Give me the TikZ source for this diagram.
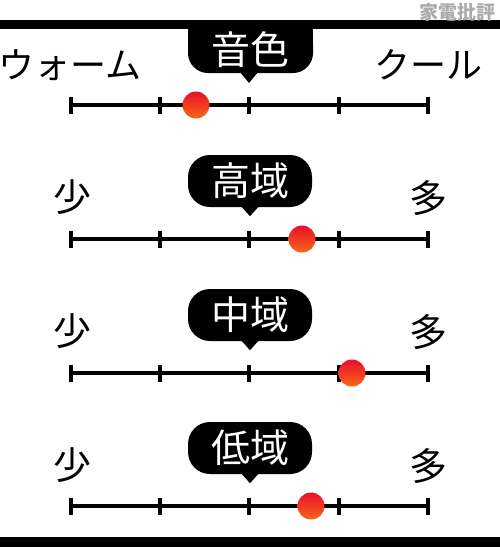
\documentclass[tikz,border=0pt]{standalone}
\usepackage{fontspec}
\newfontfamily\jp{Noto Sans CJK JP}
\definecolor{dotred}{HTML}{E8102A}
\definecolor{dotorange}{HTML}{F7661A}
\definecolor{wmgray}{HTML}{ABABAB}
\tikzset{
  bubble/.style={fill=black, text=white, rounded corners=22pt, minimum width=124pt, minimum height=52pt, inner sep=0pt, font=\jp\fontsize{39}{39}\selectfont},
  bubbletext/.style={text=white, inner sep=0pt, font=\jp\fontsize{39}{39}\selectfont},
  endlabel/.style={inner sep=0pt, font=\jp\fontsize{38}{38}\selectfont},
  scaleline/.style={line width=3.5pt},
  dot/.style={circle, minimum size=27pt, inner sep=0pt, top color=dotred, bottom color=dotorange, shading angle=0},
}
\begin{document}
\begin{tikzpicture}[x=1pt,y=-1pt]
\useasboundingbox (0,0) rectangle (500,547);
\fill[white] (0,0) rectangle (500,547);
% bars
\fill (0,20) rectangle (500,29);
\fill (0,537) rectangle (500,547);
\node[text=wmgray, inner sep=0pt, font=\jp\bfseries\fontsize{19}{19}\selectfont, anchor=east] (wm) at (496,12) {家電批評};

\foreach \y/\d/\n in {105/196/a, 239/302/b, 373/352/c, 506/311/d}{
  \coordinate (s\n) at (71,\y);
  \coordinate (e\n) at (428,\y);
  \draw[scaleline] (s\n) -- (e\n);
  \foreach \x in {71,160,249,339,428}{
    \draw[scaleline] (\x,\y-8.5) -- (\x,\y+8.5);
  }
  \node[dot] (dot\n) at (\d,\y) {};
}

% section 1
\fill[rounded corners=20pt] (188,25) rectangle (313,73);
\fill (188,25) rectangle (313,50);
\fill (240,72) -- (258,72) -- (249,83) -- cycle;
\node[bubbletext] (t1) at (250,50) {音色};
\node[endlabel, font=\jp\fontsize{36}{36}\selectfont] (l1) at (70,65) {ウォーム};
\node[endlabel, font=\jp\fontsize{36}{36}\selectfont] (r1) at (428,65) {クール};

% section 2
\node[bubble] (b2) at (250,181) {高域};
\fill ([xshift=-9pt,yshift=1pt]b2.south) -- ([xshift=9pt,yshift=1pt]b2.south) -- ([yshift=-9pt]b2.south) -- cycle;
\node[endlabel] (l2) at (72,197) {少};
\node[endlabel] (r2) at (428,198) {多};

% section 3
\node[bubble] (b3) at (250,315) {中域};
\fill ([xshift=-9pt,yshift=1pt]b3.south) -- ([xshift=9pt,yshift=1pt]b3.south) -- ([yshift=-9pt]b3.south) -- cycle;
\node[endlabel] (l3) at (72,331) {少};
\node[endlabel] (r3) at (428,332) {多};

% section 4
\node[bubble] (b4) at (250,448) {低域};
\fill ([xshift=-9pt,yshift=1pt]b4.south) -- ([xshift=9pt,yshift=1pt]b4.south) -- ([yshift=-9pt]b4.south) -- cycle;
\node[endlabel] (l4) at (72,465) {少};
\node[endlabel] (r4) at (428,466) {多};
\end{tikzpicture}
\end{document}
